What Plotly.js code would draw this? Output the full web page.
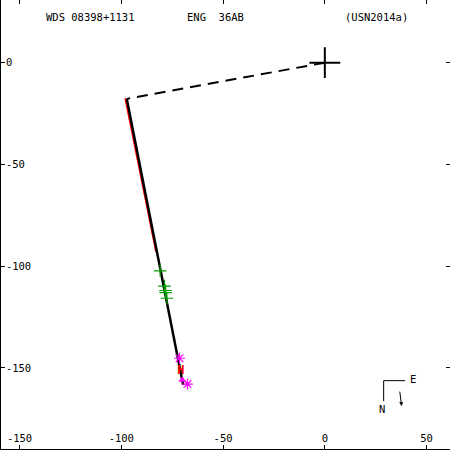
<!DOCTYPE html>
<html><head><meta charset="utf-8">
<script src="https://cdn.plot.ly/plotly-3.0.1.min.js"></script>
<style>html,body{margin:0;padding:0;background:#fff}#c{width:450px;height:450px}</style>
</head><body><div id="c"></div>
<script>
// Linear fit path (start = closest approach, end)
const fitX = [-97.3, -69.6];
const fitY = [-17.8, -158.4];
// Dashed line from primary to closest approach
const dashX = [0, -97.3];
const dashY = [0, -17.8];
// Red measures path
const redX = [-98.0, -82.9];
const redY = [-17.5, -92.9];
// Green micrometer measures
const grnX = [-80.9, -78.8, -78.3, -78.2, -77.6];
const grnY = [-102.3, -109.8, -112.0, -113.0, -115.8];
// Magenta speckle (asterisk)
const magX = [-71.4, -67.5];
const magY = [-145.3, -158.0];
// Magenta triangle
const triX = [-70.0];
const triY = [-156.0];
// Hipparcos
const hipX = [-70.7];
const hipY = [-151.4];
// Primary
const priX = [0];
const priY = [0];
const xTicks = [-150, -100, -50, 0, 50];
const yTicks = [0, -50, -100, -150];

const FONT = {family: 'DejaVu Sans Mono, monospace', size: 10.5, color: '#000'};
const traces = [
  {x: dashX, y: dashY, mode: 'lines', line: {color: '#000', width: 2, dash: '11px,7px'}},
  {x: redX, y: redY, mode: 'lines', line: {color: '#ff0000', width: 2}},
  {x: fitX, y: fitY, mode: 'lines', line: {color: '#000', width: 2.5}},
  {x: grnX, y: grnY, mode: 'markers', marker: {symbol: 'cross-thin-open', size: 9, color: '#00a000', line: {color: '#00a000', width: 1.2}}},
  {x: magX, y: magY, mode: 'markers', marker: {symbol: 'asterisk-open', size: 9, color: '#ff00ff', line: {color: '#ff00ff', width: 1.2}}},
  {x: triX, y: triY, mode: 'markers', marker: {symbol: 'triangle-up', size: 7, color: '#ff00ff'}},
  {x: hipX, y: hipY, mode: 'text', text: ['H'], textfont: {family: 'DejaVu Sans Mono, monospace', size: 12, color: '#ff0000', weight: 'bold'}},
  {x: priX, y: priY, mode: 'markers', marker: {symbol: 'cross-thin-open', size: 22, color: '#000', line: {color: '#000', width: 2}}}
];
const py = p => 1 - p / 450;
const px = p => p / 450;
const axisCommon = {ticks: 'inside', ticklen: 4, tickwidth: 1, tickcolor: '#000', ticklabelposition: 'inside', ticklabeloverflow: 'allow',
  showline: true, linecolor: '#000', linewidth: 2, mirror: 'ticks', showgrid: false, zeroline: false, tickfont: FONT};
const layout = {
  width: 450, height: 450, showlegend: false,
  margin: {l: 1, r: 0, t: 0, b: 1},
  paper_bgcolor: '#fff', plot_bgcolor: '#fff',
  xaxis: Object.assign({range: [-159.1, 61.5], tickvals: xTicks, ticktext: xTicks.map(String)}, axisCommon),
  yaxis: Object.assign({range: [-189.9, 30.8], tickvals: yTicks, ticktext: yTicks.map(String)}, axisCommon),
  annotations: [
    {xref: 'paper', yref: 'paper', x: px(43), y: py(17), xanchor: 'left', yanchor: 'middle', text: 'WDS 08398+1131', showarrow: false, font: FONT},
    {xref: 'paper', yref: 'paper', x: px(184), y: py(17), xanchor: 'left', yanchor: 'middle', text: 'ENG\u00a0\u00a036AB', showarrow: false, font: FONT},
    {xref: 'paper', yref: 'paper', x: px(343), y: py(17), xanchor: 'left', yanchor: 'middle', text: '(USN2014a)', showarrow: false, font: FONT},
    {xref: 'paper', yref: 'paper', x: px(413), y: py(380), xanchor: 'center', yanchor: 'middle', text: 'E', showarrow: false, font: FONT},
    {xref: 'paper', yref: 'paper', x: px(382), y: py(410), xanchor: 'center', yanchor: 'middle', text: 'N', showarrow: false, font: FONT},
    {xref: 'paper', yref: 'paper', x: px(401.5), y: py(407), ax: -2, ay: -16, text: '', showarrow: true, arrowhead: 2, arrowsize: 0.8, arrowwidth: 1, arrowcolor: '#000'}
  ],
  shapes: [
    {type: 'line', xref: 'paper', yref: 'paper', x0: px(383.5), y0: py(381.5), x1: px(405), y1: py(381.5), line: {color: '#000', width: 1}},
    {type: 'line', xref: 'paper', yref: 'paper', x0: px(383.5), y0: py(381.5), x1: px(383.5), y1: py(402), line: {color: '#000', width: 1}}
  ]
};
Plotly.newPlot('c', traces, layout, {staticPlot: true});
</script></body></html>
